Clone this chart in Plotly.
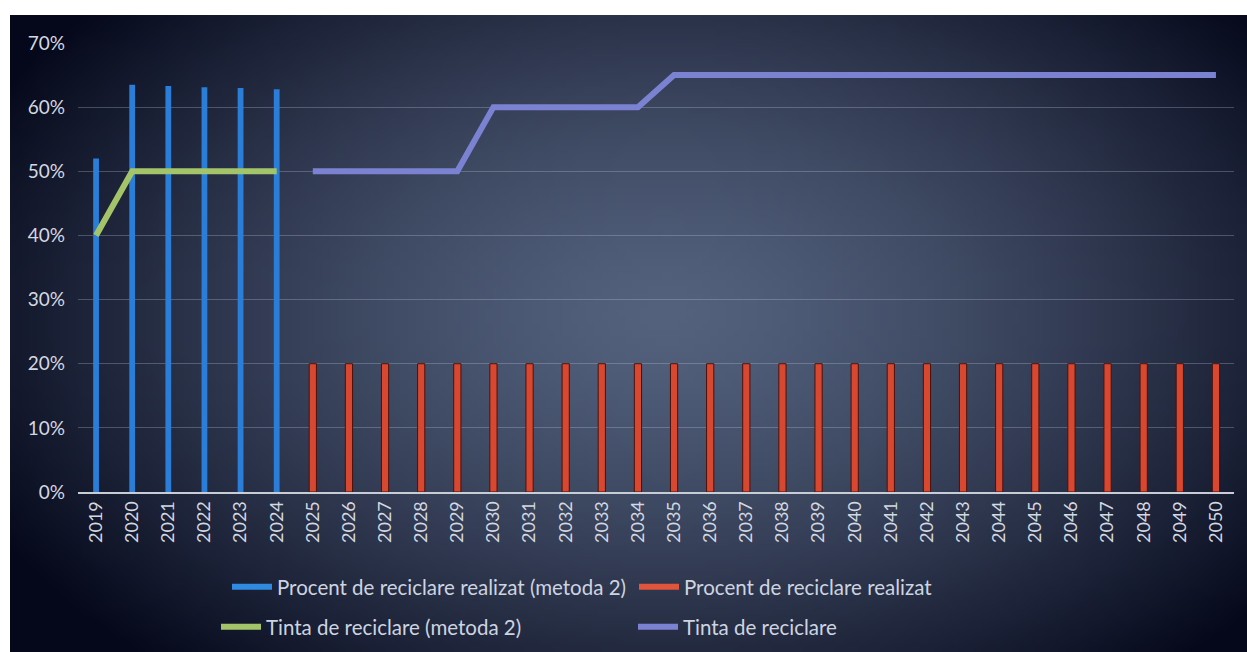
import base64
import struct
import zlib

import plotly.graph_objects as go

# data
years = [str(y) for y in range(2019, 2051)]
years_m2 = years[:6]
years_new = years[6:]
realizat_m2 = [52, 63.5, 63.3, 63.1, 63.0, 62.8]
realizat = [20] * 26
tinta_m2 = [40, 50, 50, 50, 50, 50]
tinta = [50, 50, 50, 50, 50, 60, 60, 60, 60, 60] + [65] * 16

W, H = 1247, 652
L, R, T, B = 78, 13, 43, 160
pw, ph = W - L - R, H - T - B


def gradient_png(w=160, h=90):
    # radial dark-blue background, lighter towards the middle
    cx, cy = 0.53, 0.47
    inner = (84, 98, 126)
    outer = (5, 8, 26)
    rows = []
    for j in range(h):
        row = bytearray([0])
        for i in range(w):
            dx = (i / (w - 1) - cx) / 0.62
            dy = (j / (h - 1) - cy) / 0.75
            d = min(1.0, (dx * dx + dy * dy) ** 0.5)
            t = d ** 1.4
            row += bytes(int(inner[k] + (outer[k] - inner[k]) * t) for k in range(3))
        rows.append(bytes(row))
    raw = b"".join(rows)

    def chunk(tag, data):
        c = struct.pack(">I", len(data)) + tag + data
        return c + struct.pack(">I", zlib.crc32(tag + data) & 0xFFFFFFFF)

    png = b"\x89PNG\r\n\x1a\n"
    png += chunk(b"IHDR", struct.pack(">IIBBBBB", w, h, 8, 2, 0, 0, 0))
    png += chunk(b"IDAT", zlib.compress(raw, 9))
    png += chunk(b"IEND", b"")
    return "data:image/png;base64," + base64.b64encode(png).decode()


fig = go.Figure()

fig.add_trace(go.Bar(x=years_m2, y=realizat_m2, width=0.16, marker=dict(color="#2a7ed8", line=dict(width=0)),
                     showlegend=False))
fig.add_trace(go.Bar(x=years_new, y=realizat, width=0.2,
                     marker=dict(color="#d8472f", line=dict(color="#4a120c", width=1)), showlegend=False))
fig.add_trace(go.Scatter(x=years_m2, y=tinta_m2, mode="lines", line=dict(color="#a4c46a", width=6),
                         showlegend=False))
fig.add_trace(go.Scatter(x=years_new, y=tinta, mode="lines", line=dict(color="#7b82d2", width=6),
                         showlegend=False))

# legend entries (line-shaped symbols like the original)
fig.add_trace(go.Scatter(x=[None], y=[None], mode="lines", line=dict(color="#2f8ae0", width=6),
                         name="Procent de reciclare realizat (metoda 2)", legend="legend"))
fig.add_trace(go.Scatter(x=[None], y=[None], mode="lines", line=dict(color="#e0553c", width=6),
                         name="Procent de reciclare realizat", legend="legend"))
fig.add_trace(go.Scatter(x=[None], y=[None], mode="lines", line=dict(color="#a4c46a", width=6),
                         name="Tinta de reciclare (metoda 2)", legend="legend2"))
fig.add_trace(go.Scatter(x=[None], y=[None], mode="lines", line=dict(color="#7b82d2", width=6),
                         name="Tinta de reciclare", legend="legend2"))

tick_color = "#d4d8e0"
legend_font = dict(family="Lato, Open Sans, sans-serif", size=20.5, color="#cdd4e0")

fig.update_layout(
    width=W, height=H,
    margin=dict(l=L, r=R, t=T, b=B),
    paper_bgcolor="white",
    plot_bgcolor="rgba(0,0,0,0)",
    barmode="overlay",
    font=dict(family="Lato, Open Sans, sans-serif", color=tick_color),
    xaxis=dict(type="category", tickangle=-90, showgrid=False, showline=True, linecolor="#c8ccd4",
               linewidth=2, ticks="", tickfont=dict(size=18, color=tick_color)),
    yaxis=dict(range=[0, 70], dtick=10, ticksuffix="%", showgrid=True, gridcolor="rgba(190,200,215,0.3)",
               gridwidth=1, zeroline=False, tickfont=dict(size=19, color=tick_color), ticklabelstandoff=12),
    legend=dict(orientation="h", xref="container", yref="container", x=227 / W, xanchor="left",
                y=1 - 587 / H, yanchor="middle", entrywidth=352, entrywidthmode="pixels", itemwidth=40,
                bgcolor="rgba(0,0,0,0)", font=legend_font),
    legend2=dict(orientation="h", xref="container", yref="container", x=216 / W, xanchor="left",
                 y=1 - 627 / H, yanchor="middle", entrywidth=362, entrywidthmode="pixels", itemwidth=40,
                 bgcolor="rgba(0,0,0,0)", font=legend_font),
    images=[dict(source=gradient_png(), xref="paper", yref="paper",
                 x=(10 - L) / pw, y=(H - B - 15) / ph, sizex=(W - 10) / pw, sizey=(H - 15) / ph,
                 xanchor="left", yanchor="top", sizing="stretch", layer="below")],
)

# drop the default page margin so the figure fills the window exactly
fig.write_html("out.html", config={"displayModeBar": False},
               post_script="document.body.style.margin='0';document.body.style.overflow='hidden';")
